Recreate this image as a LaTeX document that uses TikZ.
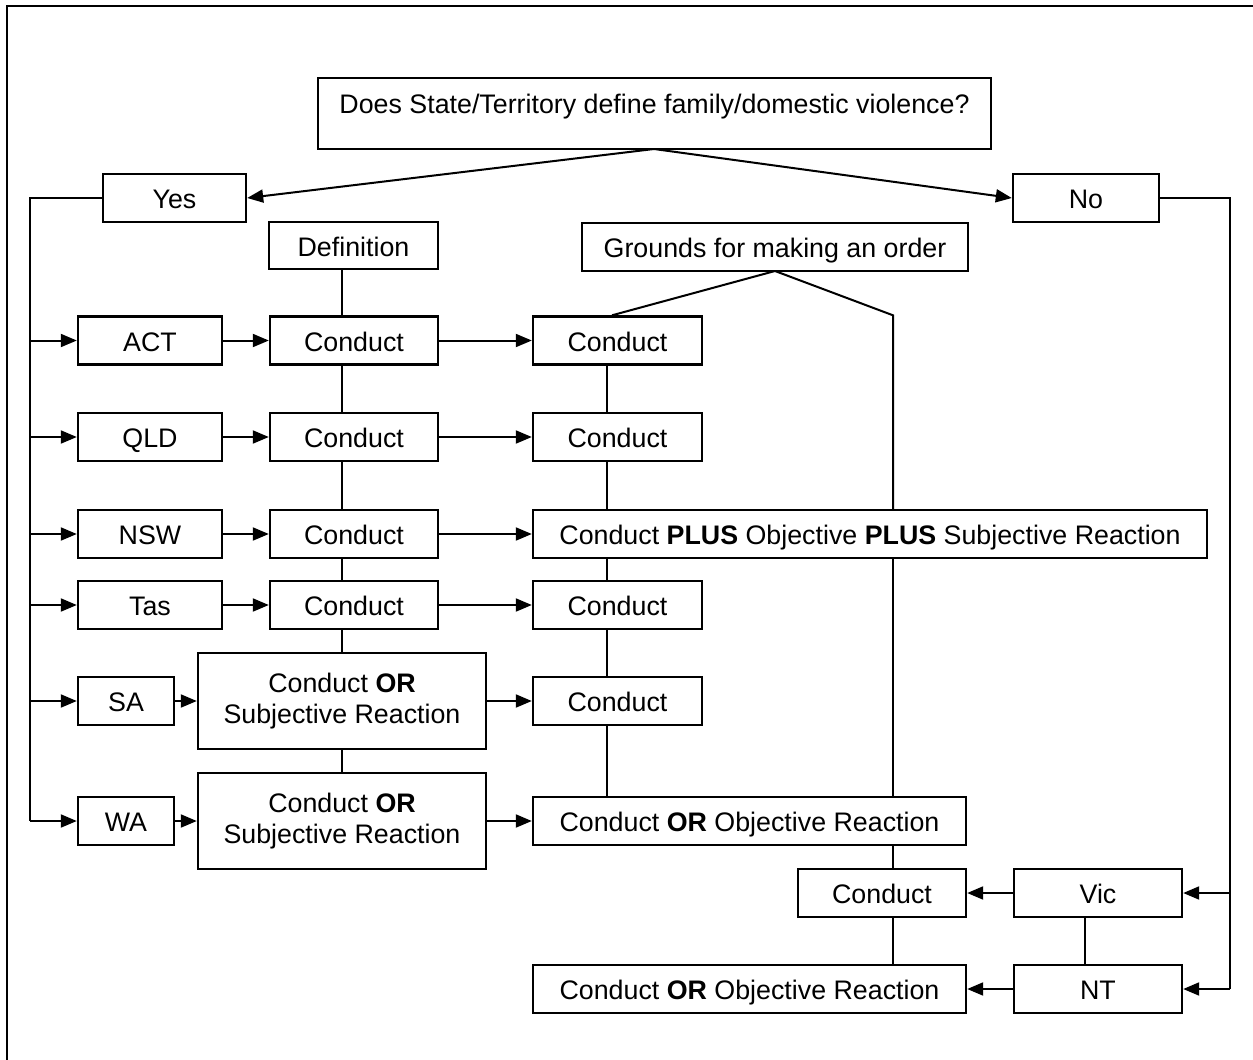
\documentclass[tikz,border=0pt]{standalone}
\usepackage{fontspec}
\setmainfont{Liberation Sans}
\usepackage{tikz}
\usetikzlibrary{calc,arrows.meta,positioning}

\begin{document}
\begin{tikzpicture}[x=0.5pt,y=-0.5pt,
  box/.style={draw, line width=1.2pt, inner sep=0pt, minimum height=24pt,
    text height=10.5pt, text depth=0pt, font=\fontsize{13.4}{15.5}\selectfont},
  twobox/.style={draw, line width=1.2pt, inner sep=0pt, minimum width=144pt,
    minimum height=48pt, align=center, font=\fontsize{13.4}{15.5}\selectfont},
  link/.style={line width=1pt},
  arr/.style={line width=1pt, -{Triangle[length=8pt,width=6.5pt]}}]
\useasboundingbox (0,0) rectangle (1253,1060);
% outer frame
\draw[line width=1pt] (6.5,1080) -- (6.5,5.5) -- (1270,5.5);

% question and answers
\node[box, minimum width=336.5pt, minimum height=35.5pt, text height=17.5pt, text depth=18pt] (q) at (654.5,113.5) {Does State/Territory define family/domestic violence?};
\node[box, minimum width=71.5pt] (yes) at (174.5,198) {Yes};
\node[box, minimum width=73pt] (no) at (1086,198) {No};
\node[box, minimum width=84.5pt, minimum height=23.5pt] (def) at (353.5,245.5) {Definition};
\node[box, minimum width=193pt] (grounds) at (775,247) {Grounds for making an order};

% states
\node[box, minimum width=72pt] (act) at (150,340.5) {ACT};
\node[box, minimum width=72pt] (qld) at (150,437) {QLD};
\node[box, minimum width=72pt] (nsw) at (150,534) {NSW};
\node[box, minimum width=72pt] (tas) at (150,605) {Tas};
\node[box, minimum width=48pt] (sa) at (126,701) {SA};
\node[box, minimum width=48pt] (wa) at (126,821) {WA};
\node[box, minimum width=84pt] (vic) at (1098,893) {Vic};
\node[box, minimum width=84pt] (nt) at (1098,989) {NT};

% definition column
\node[box, minimum width=84pt] (dact) at (354,340.5) {Conduct};
\node[box, minimum width=84pt] (dqld) at (354,437) {Conduct};
\node[box, minimum width=84pt] (dnsw) at (354,534) {Conduct};
\node[box, minimum width=84pt] (dtas) at (354,605) {Conduct};
\node[twobox] (dsa) at (342,701) {Conduct \textbf{OR}\\Subjective Reaction};
\node[twobox] (dwa) at (342,821) {Conduct \textbf{OR}\\Subjective Reaction};

% grounds column
\node[box, minimum width=84.5pt] (gact) at (617.5,340.5) {Conduct};
\node[box, minimum width=84.5pt] (gqld) at (617.5,437) {Conduct};
\node[box, minimum width=337pt] (gnsw) at (870,534) {Conduct \textbf{PLUS} Objective \textbf{PLUS} Subjective Reaction};
\node[box, minimum width=84.5pt] (gtas) at (617.5,605) {Conduct};
\node[box, minimum width=84.5pt] (gsa) at (617.5,701) {Conduct};
\node[box, minimum width=216.5pt] (gwa) at (749.5,821) {Conduct \textbf{OR} Objective Reaction};
\node[box, minimum width=84pt] (gvic) at (882,893) {Conduct};
\node[box, minimum width=216.5pt] (gnt) at (749.5,989) {Conduct \textbf{OR} Objective Reaction};

\coordinate (qfoot) at (654,149);
\coordinate (gfoot) at (775,271);
\coordinate (lbus) at (30,198);
\coordinate (rbus) at (1230,198);
\coordinate (c2) at (342,0);
\coordinate (c3) at (607,0);
\coordinate (c4) at (893,0);

% yes / no
\draw[arr] (qfoot) -- (yes.east);
\draw[arr] (qfoot) -- (no.west);
\draw[link] (yes.west) -- (lbus) -- (lbus |- wa.west);
\foreach \s in {act,qld,nsw,tas,sa,wa}
  \draw[arr] (lbus |- \s.west) -- (\s.west);
\draw[link] (no.east) -- (rbus) -- (rbus |- nt.east);
\foreach \s in {vic,nt}
  \draw[arr] (rbus |- \s.east) -- (\s.east);

% across the rows
\foreach \s/\d/\g in {act/dact/gact,qld/dqld/gqld,nsw/dnsw/gnsw,tas/dtas/gtas,sa/dsa/gsa,wa/dwa/gwa}{
  \draw[arr] (\s.east) -- (\d.west);
  \draw[arr] (\d.east) -- (\g.west |- \d.east);
}
\draw[arr] (vic.west) -- (gvic.east);
\draw[arr] (nt.west) -- (gnt.east);

% definition column
\draw[link] (def.south -| c2) -- (dact.north -| c2);
\draw[link] (dact.south -| c2) -- (dqld.north -| c2);
\draw[link] (dqld.south -| c2) -- (dnsw.north -| c2);
\draw[link] (dnsw.south -| c2) -- (dtas.north -| c2);
\draw[link] (dtas.south -| c2) -- (dsa.north -| c2);
\draw[link] (dsa.south -| c2) -- (dwa.north -| c2);

% grounds column
\draw[link] (gfoot) -- (gact.north -| 612,0);
\draw[link] (gfoot) -- (gact.north -| c4) -- (gnsw.north -| c4);
\draw[link] (gact.south -| c3) -- (gqld.north -| c3);
\draw[link] (gqld.south -| c3) -- (gnsw.north -| c3);
\draw[link] (gnsw.south -| c3) -- (gtas.north -| c3);
\draw[link] (gtas.south -| c3) -- (gsa.north -| c3);
\draw[link] (gsa.south -| c3) -- (gwa.north -| c3);
\draw[link] (gnsw.south -| c4) -- (gwa.north -| c4);
\draw[link] (gwa.south -| c4) -- (gvic.north -| c4);
\draw[link] (gvic.south -| c4) -- (gnt.north -| c4);
\draw[link] (vic.south -| 1085,0) -- (nt.north -| 1085,0);
\end{tikzpicture}
\end{document}
